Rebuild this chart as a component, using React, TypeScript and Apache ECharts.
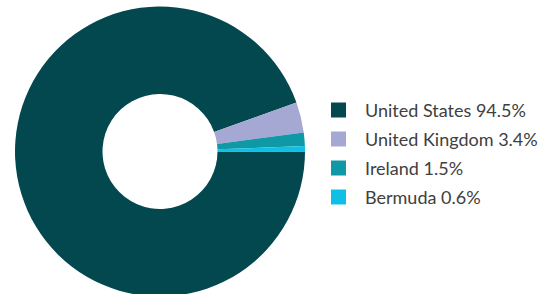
import React, { useEffect, useRef } from "react";
import * as echarts from "echarts";

const countries = ["United States", "United Kingdom", "Ireland", "Bermuda"];
const shares = [94.5, 3.4, 1.5, 0.6];
const colors = ["#03474f", "#a5a8d3", "#0f98a6", "#0ec0e6"];

export default function App() {
  const ref = useRef<HTMLDivElement>(null);
  useEffect(() => {
    if (!ref.current) return;
    const chart = echarts.init(ref.current, null, { renderer: "svg" });
    const data = countries.map((name, i) => ({
      name,
      value: shares[i],
      itemStyle: { color: colors[i] },
    }));
    chart.setOption({
      animation: false,
      backgroundColor: "#ffffff",
      legend: {
        orient: "vertical",
        left: 326,
        top: 96,
        icon: "rect",
        itemWidth: 15,
        itemHeight: 15,
        itemGap: 11,
        data: countries,
        formatter: (name: string) => {
          const i = countries.indexOf(name);
          return `${name} ${shares[i].toFixed(1)}%`;
        },
        textStyle: {
          fontFamily: "Lato",
          fontSize: 18,
          color: "#404040",
          lineHeight: 15,
          padding: [0, 0, 0, 14],
        },
        selectedMode: false,
      },
      series: [
        {
          type: "pie",
          center: [160, 151.5],
          radius: [57.5, 145],
          startAngle: 0,
          clockwise: true,
          label: { show: false },
          labelLine: { show: false },
          emphasis: { disabled: true },
          itemStyle: { borderWidth: 0 },
          data,
        },
      ],
    });
    return () => chart.dispose();
  }, []);
  return (
    <div
      ref={ref}
      style={{ position: "fixed", left: 0, top: 0, width: 541, height: 294 }}
    />
  );
}
